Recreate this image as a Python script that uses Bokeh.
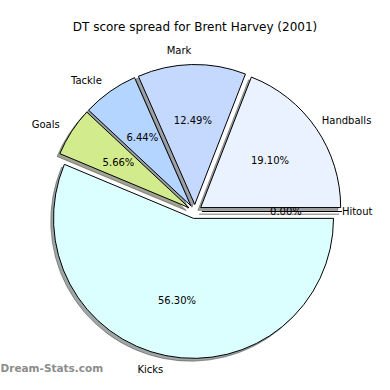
import math
from bokeh.plotting import figure
from bokeh.models import Range1d, Label
from bokeh.core.properties import value
from bokeh.embed import file_html
from bokeh.resources import INLINE

# ---- data (clockwise from 3 o'clock) ----
categories = ["Kicks", "Goals", "Tackle", "Mark", "Handballs", "Hitout"]
shares = [56.30, 5.66, 6.44, 12.49, 19.10, 0.00]
colors = ["#dbffff", "#d2eb8c", "#b4d5ff", "#c5d9ff", "#ebf2ff", "#ffffff"]
title_text = "DT score spread for Brent Harvey (2001)"
watermark = "Dream-Stats.com"

# ---- styling ----
EXPLODE = 0.05
SHADOW = (-0.02, -0.02)
LABEL_DIST = 1.1
PCT_DIST = 0.6
W = H = 374
SCALE = 140.0          # pixels per unit radius
CX, CY = 194.4, 211.0  # pie centre within the frame (from top-left)
FONT = value("DejaVu Sans")
# small nudges so that the outer labels stay inside the frame
NUDGE = {"Handballs": -6, "Hitout": -14}

p = figure(width=W, height=H, output_backend="svg", toolbar_location=None,
           min_border=0, x_range=Range1d(-CX / SCALE, (W - CX) / SCALE),
           y_range=Range1d((CY - H) / SCALE, CY / SCALE))
p.axis.visible = False
p.grid.visible = False
p.outline_line_color = None
p.background_fill_color = "white"
p.border_fill_color = "white"

total = sum(shares)
wedges = []
cum = 0.0
for name, v, c in zip(categories, shares, colors):
    frac = v / total
    t1 = -cum * 2 * math.pi
    t2 = -(cum + frac) * 2 * math.pi
    tm = (t1 + t2) / 2
    cx = EXPLODE * math.cos(tm)
    cy = EXPLODE * math.sin(tm)
    wedges.append(dict(name=name, v=v, c=c, t1=t1, t2=t2, tm=tm, cx=cx, cy=cy, frac=frac))
    cum += frac

def shade(hexc):
    r = int(hexc[1:3], 16) * 0.3
    g = int(hexc[3:5], 16) * 0.3
    b = int(hexc[5:7], 16) * 0.3
    return "#%02x%02x%02x" % (int(r), int(g), int(b))

# shadows first
for w in wedges:
    sx, sy = w["cx"] + SHADOW[0], w["cy"] + SHADOW[1]
    if w["frac"] > 0:
        p.wedge(x=[sx], y=[sy], radius=1.0, start_angle=w["t2"], end_angle=w["t1"],
                direction="anticlock", fill_color=shade(w["c"]), fill_alpha=0.5,
                line_color=shade(w["c"]), line_alpha=0.5, line_width=1)
    else:
        p.segment(x0=[sx], y0=[sy], x1=[sx + math.cos(w["tm"])], y1=[sy + math.sin(w["tm"])],
                  line_color=shade(w["c"]), line_alpha=0.5, line_width=1.5)

# wedges
for w in wedges:
    if w["frac"] > 0:
        p.wedge(x=[w["cx"]], y=[w["cy"]], radius=1.0, start_angle=w["t2"], end_angle=w["t1"],
                direction="anticlock", fill_color=w["c"], line_color="black", line_width=1)
    else:
        p.segment(x0=[w["cx"]], y0=[w["cy"]],
                  x1=[w["cx"] + math.cos(w["tm"])], y1=[w["cy"] + math.sin(w["tm"])],
                  line_color="black", line_width=1)

# labels and percentages
for w in wedges:
    lx = w["cx"] + LABEL_DIST * math.cos(w["tm"])
    ly = w["cy"] + LABEL_DIST * math.sin(w["tm"])
    align = "left" if lx > 0 else "right"
    p.text(x=[lx], y=[ly], text=[w["name"]], text_align=align, text_baseline="middle",
           text_font=FONT, text_font_size="10px", text_color="black",
           x_offset=NUDGE.get(w["name"], 0))
    px = w["cx"] + PCT_DIST * math.cos(w["tm"])
    py = w["cy"] + PCT_DIST * math.sin(w["tm"])
    p.text(x=[px], y=[py], text=["%.2f%%" % w["v"]], text_align="center", text_baseline="middle",
           text_font=FONT, text_font_size="10px", text_color="black")

p.add_layout(Label(x=194.5, y=H - 26, x_units="screen", y_units="screen", text=title_text,
                   text_align="center", text_baseline="middle", text_font="DejaVu Sans",
                   text_font_size="12px", text_color="black"))
p.add_layout(Label(x=0, y=H - 367, x_units="screen", y_units="screen", text=watermark,
                   text_align="left", text_baseline="middle", text_font="DejaVu Sans",
                   text_font_size="10.5px", text_font_style="bold", text_color="#8c8c8c"))

open("out.html", "w").write(file_html(p, INLINE))
